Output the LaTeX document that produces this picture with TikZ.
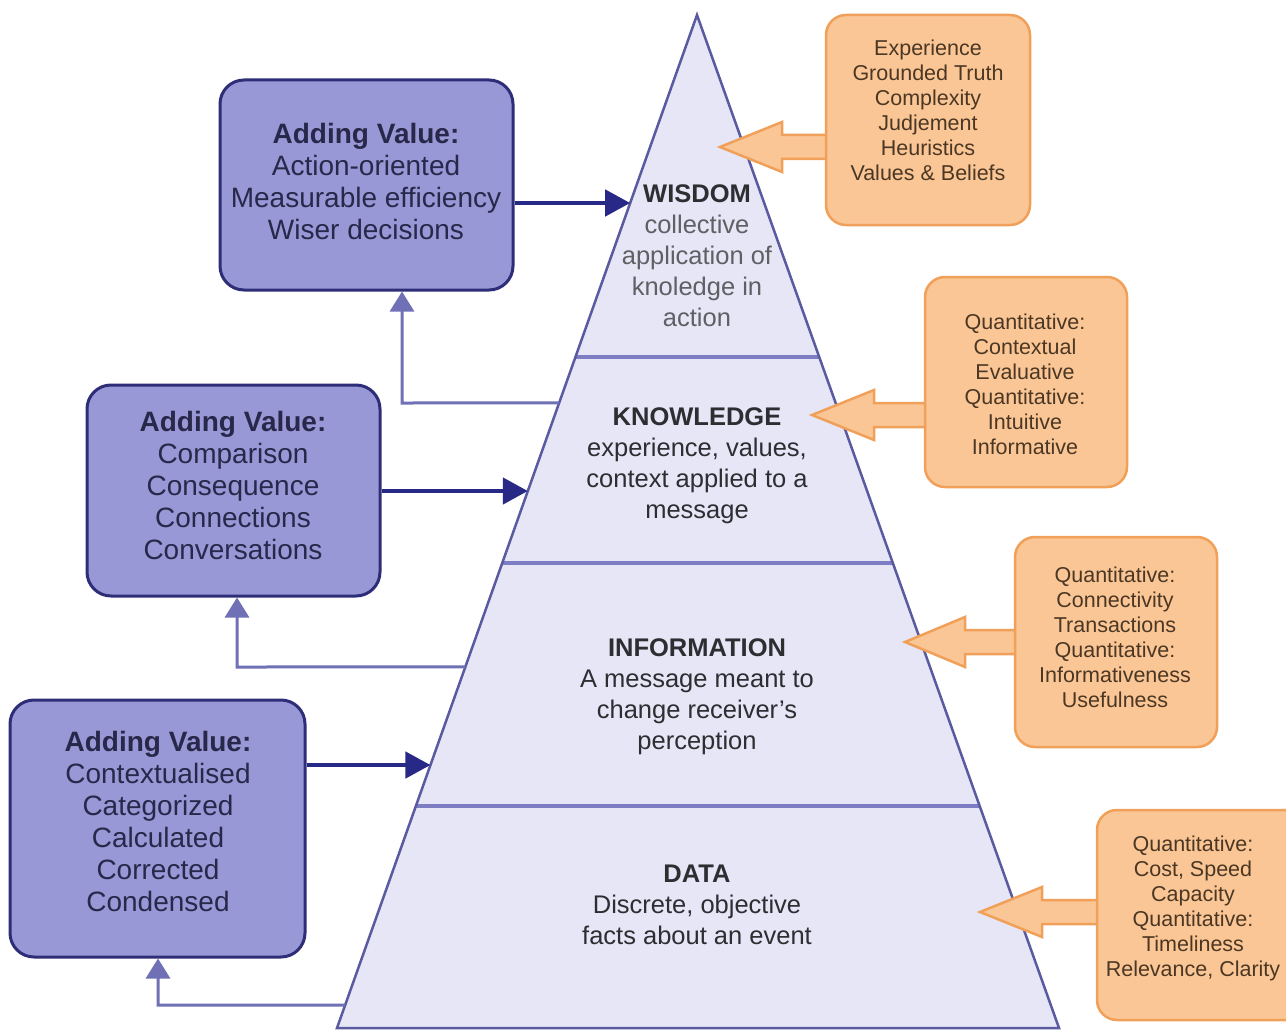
\documentclass[tikz,border=0pt]{standalone}
\usepackage{fontspec}
\setmainfont{Liberation Sans}
\usetikzlibrary{arrows.meta,calc}
\definecolor{pfill}{RGB}{152,152,214}
\definecolor{pdraw}{RGB}{46,46,120}
\definecolor{ptextc}{RGB}{40,40,75}
\definecolor{ofill}{RGB}{250,198,150}
\definecolor{odraw}{RGB}{240,160,88}
\definecolor{otextc}{RGB}{75,55,35}
\definecolor{pyfill}{RGB}{230,230,246}
\definecolor{pydraw}{RGB}{90,90,160}
\definecolor{divc}{RGB}{125,125,195}
\definecolor{navy}{RGB}{40,40,135}
\definecolor{fback}{RGB}{112,112,182}
\definecolor{pytext}{RGB}{45,45,50}
\definecolor{pylight}{RGB}{95,95,100}
\tikzset{
  pbox/.style={draw=pdraw, fill=pfill, line width=3pt, rounded corners=24pt, inner sep=0pt},
  obox/.style={draw=odraw, fill=ofill, line width=2.5pt, rounded corners=20pt, inner sep=0pt},
  ptext/.style={align=center, inner sep=0pt, text=ptextc, font=\fontsize{28}{32}\selectfont},
  otext/.style={align=center, inner sep=0pt, text=otextc, font=\fontsize{21.5}{25}\selectfont},
  pytxt/.style={align=center, inner sep=0pt, text=pytext, font=\fontsize{25.5}{31}\selectfont},
  navyarrow/.style={draw=navy, line width=4.5pt, -{Triangle[length=25pt,width=26pt]}},
  fbarrow/.style={draw=fback, line width=3pt, -{Triangle[length=20pt,width=24pt]}},
  oarrow/.style={draw=odraw, fill=ofill, line width=2.5pt, line join=miter},
  divider/.style={draw=divc, line width=4pt}
}
\begin{document}
\begin{tikzpicture}[x=1pt,y=-1pt]
\useasboundingbox (0,0) rectangle (1286,1030);
\fill[white] (0,0) rectangle (1286,1030);
% pyramid
\coordinate (apex) at (697,15);
\coordinate (bl) at (337,1028);
\coordinate (br) at (1059,1028);
\fill[pyfill] (apex) -- (bl) -- (br) -- cycle;
\draw[divider] ($(apex)!0.3376!(bl)$) -- ($(apex)!0.3376!(br)$);
\draw[divider] ($(apex)!0.5410!(bl)$) -- ($(apex)!0.5410!(br)$);
\draw[divider] ($(apex)!0.7809!(bl)$) -- ($(apex)!0.7809!(br)$);
\draw[draw=pydraw, line width=2.5pt, line join=miter] (apex) -- (bl) -- (br) -- cycle;
% pyramid edge points
\coordinate (w1) at ($(apex)!0.1856!(bl)$);
\coordinate (w2) at ($(apex)!0.4699!(bl)$);
\coordinate (w3) at ($(apex)!0.7404!(bl)$);
\coordinate (f1) at ($(apex)!0.3830!(bl)$);
\coordinate (f2) at ($(apex)!0.6436!(bl)$);
\coordinate (f3) at ($(apex)!0.9773!(bl)$);
% pyramid texts
\node[pytxt] (wis) at (697,256) {\textbf{WISDOM}\\{\color{pylight}collective}\\{\color{pylight}application of}\\{\color{pylight}knoledge in}\\{\color{pylight}action}};
\node[pytxt] (kno) at (697,466) {\textbf{KNOWLEDGE}\\experience, values,\\context applied to a\\message};
\node[pytxt] (inf) at (697,697) {\textbf{INFORMATION}\\A message meant to\\change receiver's\\perception};
\node[pytxt] (dat) at (697,905) {\textbf{DATA}\\Discrete, objective\\facts about an event};
% purple boxes
\node[pbox, minimum width=293pt, minimum height=210pt] (b1) at (366.5,185) {};
\node[pbox, minimum width=293pt, minimum height=211pt] (b2) at (233.5,490.5) {};
\node[pbox, minimum width=295pt, minimum height=257pt] (b3) at (157.5,828.5) {};
\node[ptext] (t1) at (366,181) {\textbf{Adding Value:}\\Action-oriented\\Measurable efficiency\\Wiser decisions};
\node[ptext] (t2) at (233,485) {\textbf{Adding Value:}\\Comparison\\Consequence\\Connections\\Conversations};
\node[ptext] (t3) at (158,821) {\textbf{Adding Value:}\\Contextualised\\Categorized\\Calculated\\Corrected\\Condensed};
% navy arrows
\draw[navyarrow] (w1 -| b1.east) -- (w1);
\draw[navyarrow] (w2 -| b2.east) -- (w2);
\draw[navyarrow] (w3 -| b3.east) -- (w3);
% feedback arrows
\coordinate (k1) at (402,403);
\coordinate (k2) at (237,667);
\coordinate (k3) at (158,1005);
\draw[fbarrow] (f1) -- (k1) -- (k1 |- b1.south);
\draw[fbarrow] (f2) -- (k2) -- (k2 |- b2.south);
\draw[fbarrow] (f3) -- (k3) -- (k3 |- b3.south);
% orange boxes
\coordinate (o1w) at (826,147);
\coordinate (o2w) at (925,415);
\coordinate (o3w) at (1015,642);
\coordinate (o4w) at (1097,912);
\coordinate (tip1) at (720,147);
\coordinate (tip2) at (812,415);
\coordinate (tip3) at (905,642);
\coordinate (tip4) at (980,912);
\draw[oarrow] (tip1) -- ++(62,-25) -- ++(0,13) -- ($(o1w)+(2,-12)$) -- ($(o1w)+(2,12)$) -- ($(tip1)+(62,12)$) -- ++(0,13) -- cycle;
\draw[oarrow] (tip2) -- ++(62,-25) -- ++(0,13) -- ($(o2w)+(2,-12)$) -- ($(o2w)+(2,12)$) -- ($(tip2)+(62,12)$) -- ++(0,13) -- cycle;
\draw[oarrow] (tip3) -- ++(60,-25) -- ++(0,13) -- ($(o3w)+(2,-12)$) -- ($(o3w)+(2,12)$) -- ($(tip3)+(60,12)$) -- ++(0,13) -- cycle;
\draw[oarrow] (tip4) -- ++(62,-25) -- ++(0,13) -- ($(o4w)+(2,-12)$) -- ($(o4w)+(2,12)$) -- ($(tip4)+(62,12)$) -- ++(0,13) -- cycle;
\node[obox, minimum width=204pt, minimum height=210pt] (o1) at (928,120) {};
\node[obox, minimum width=202pt, minimum height=210pt] (o2) at (1026,382) {};
\node[obox, minimum width=202pt, minimum height=210pt] (o3) at (1116,642) {};
\node[obox, minimum width=210pt, minimum height=210pt] (o4) at (1202,915) {};
\node[otext] (ot1) at (928,110) {Experience\\Grounded Truth\\Complexity\\Judjement\\Heuristics\\Values \& Beliefs};
\node[otext] (ot2) at (1025,384) {Quantitative:\\Contextual\\Evaluative\\Quantitative:\\Intuitive\\Informative};
\node[otext] (ot3) at (1115,637) {Quantitative:\\Connectivity\\Transactions\\Quantitative:\\Informativeness\\Usefulness};
\node[otext] (ot4) at (1193,908) {Quantitative:\\Cost, Speed\\Capacity\\Quantitative:\\Timeliness\\Relevance, Clarity};
\end{tikzpicture}
\end{document}
